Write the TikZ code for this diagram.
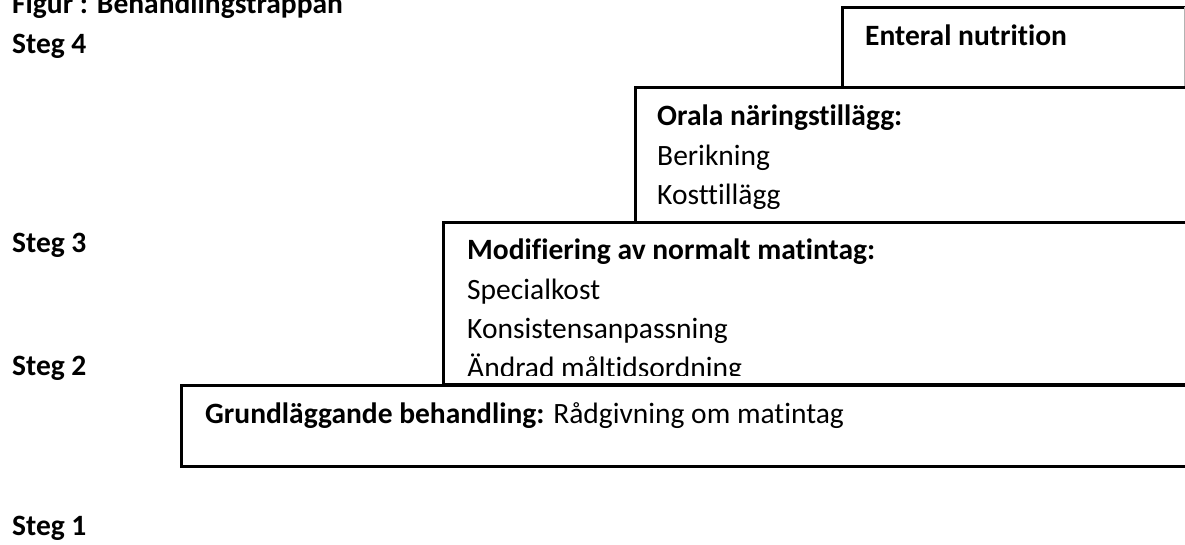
\documentclass[tikz,border=0pt]{standalone}
\usepackage{fontspec}
\setmainfont{Carlito}[Ligatures=NoCommon]
\begin{document}
\begin{tikzpicture}[x=1pt,y=-1pt]
\tikzset{
  stair/.style={draw=black, line width=3pt, fill=white},
  lbl/.style={anchor=base west, inner sep=0pt, font=\fontsize{29.5}{38}\selectfont},
  hd/.style={anchor=base west, inner sep=0pt, font=\fontsize{29.5}{38}\selectfont\bfseries},
}
\useasboundingbox (0,0) rectangle (1185,545);
\clip (0,0) rectangle (1185,545);
% title and step labels
\node[hd] (title) at (12,14) {Figur : Behandlingstrappan};
\node[hd] (s4) at (12,54) {Steg 4};
\node[hd] (s3) at (12,252) {Steg 3};
\node[hd] (s2) at (12,375) {Steg 2};
\node[hd] (s1) at (12,535) {Steg 1};
% stair boxes
\draw[stair] (842.7,7.5) rectangle (1200,87.5);
\draw[gray!60, line width=1pt] (1184,7.5) -- (1184,87.5);
\draw[stair] (635.7,88) rectangle (1200,222.7);
\draw[stair] (443,222.7) rectangle (1200,384.5);
\draw[stair] (181.7,385) rectangle (1200,466.7);
% texts
\node[hd] (enteral) at (865,46) {Enteral nutrition};
\node[hd] (orala) at (657,126) {Orala näringstillägg:};
\node[lbl] (berik) at (657,166) {Berikning};
\node[lbl] (kost) at (657,205) {Kosttillägg};
\begin{scope}
\clip (443,222.7) rectangle (1200,375);
\node[hd] (modif) at (467,260) {Modifiering av normalt matintag:};
\node[lbl] (spec) at (467,299) {Specialkost};
\node[lbl] (kons) at (467,338) {Konsistensanpassning};
\node[lbl] (andrad) at (467,377) {Ändrad måltidsordning};
\end{scope}
\node[lbl] (grund) at (205,423) {\textbf{Grundläggande behandling:} Rådgivning om matintag};
\end{tikzpicture}
\end{document}
